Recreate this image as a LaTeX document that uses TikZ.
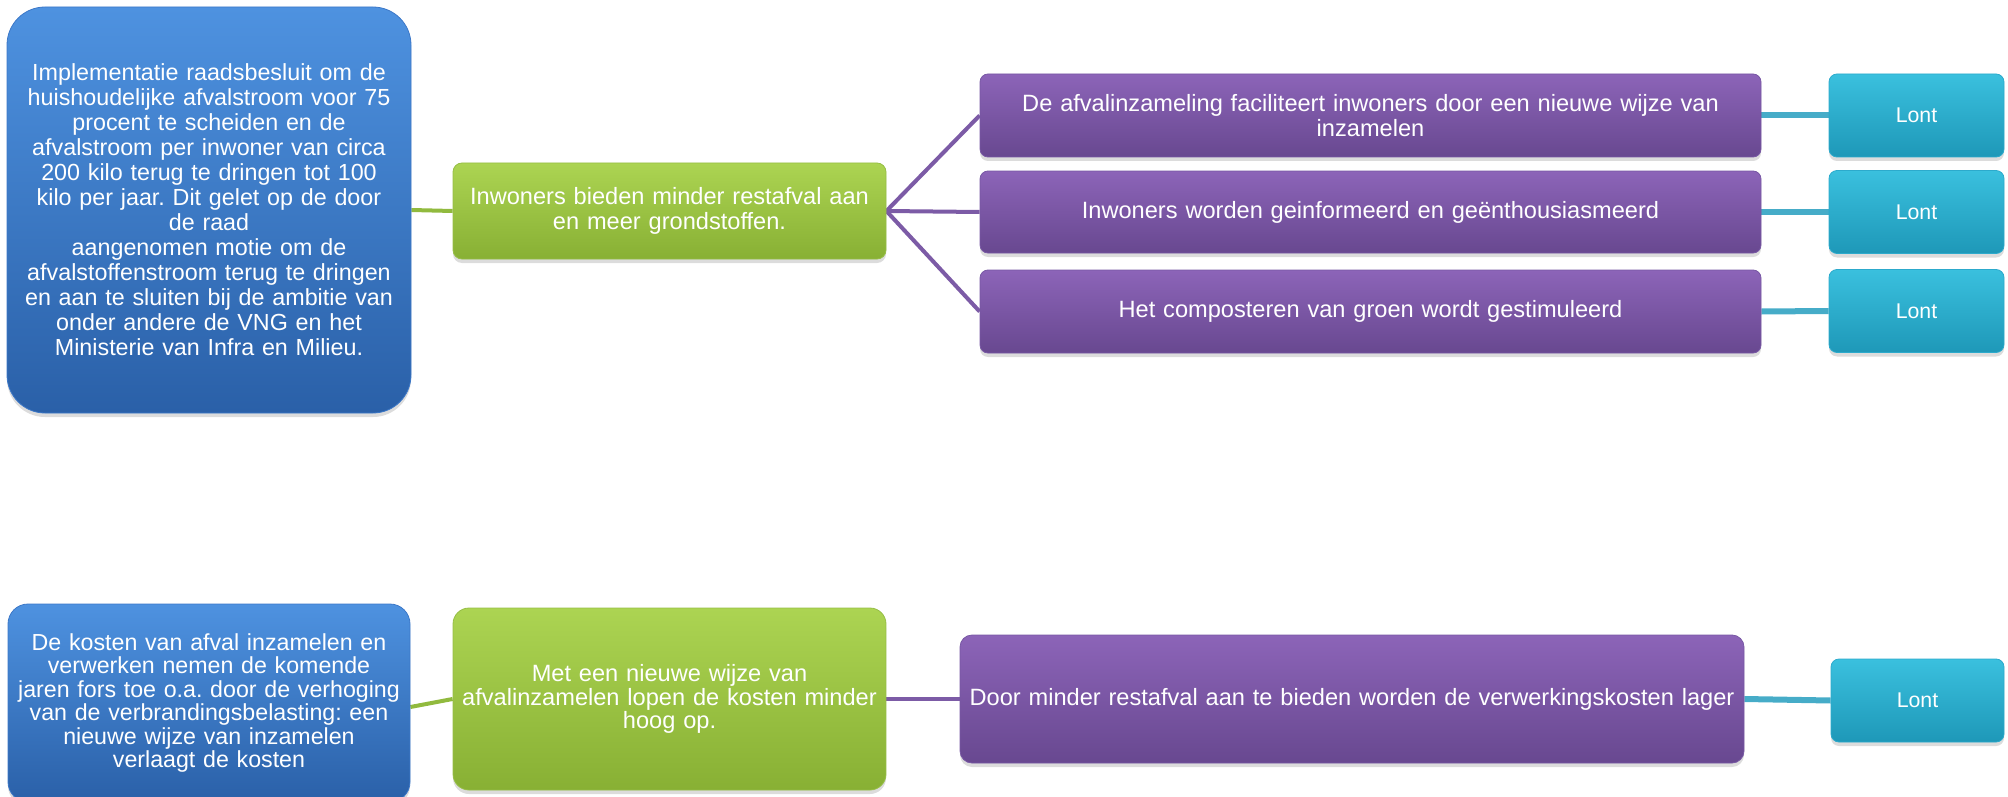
\documentclass[tikz,border=0pt]{standalone}
\usepackage{fontspec}
\setmainfont{Liberation Sans}
\usetikzlibrary{shadows}
\definecolor{bluetop}{RGB}{78,146,224}
\definecolor{bluebot}{RGB}{42,96,168}
\definecolor{blueedge}{RGB}{60,120,200}
\definecolor{greentop}{RGB}{172,212,82}
\definecolor{greenbot}{RGB}{136,176,52}
\definecolor{greenedge}{RGB}{150,190,70}
\definecolor{purptop}{RGB}{140,100,184}
\definecolor{purpbot}{RGB}{104,72,144}
\definecolor{purpedge}{RGB}{120,88,164}
\definecolor{tealtop}{RGB}{58,192,222}
\definecolor{tealbot}{RGB}{30,152,184}
\definecolor{tealedge}{RGB}{44,170,204}
\definecolor{glinec}{RGB}{145,186,62}
\definecolor{plinec}{RGB}{124,91,166}
\definecolor{tlinec}{RGB}{70,172,200}
\pgfdeclarelayer{bg}
\pgfsetlayers{bg,main}
\tikzset{
  box/.style={inner sep=0pt, align=center, text=white, line width=0.8pt,
    drop shadow={shadow xshift=0pt, shadow yshift=-4pt, opacity=0.28}},
  bluebox/.style={box, top color=bluetop, bottom color=bluebot, draw=blueedge},
  greenbox/.style={box, top color=greentop, bottom color=greenbot, draw=greenedge},
  purpbox/.style={box, top color=purptop, bottom color=purpbot, draw=purpedge,
    minimum width=781pt, text width=775pt, rounded corners=8pt,
    font=\fontsize{23.6}{25}\selectfont},
  lontbox/.style={box, top color=tealtop, bottom color=tealbot, draw=tealedge,
    minimum width=175pt, minimum height=83pt, rounded corners=8pt,
    font=\fontsize{21.3}{24}\selectfont},
  gline/.style={draw=glinec, line width=4pt},
  pline/.style={draw=plinec, line width=4pt},
  tline/.style={draw=tlinec, line width=6pt},
}
\begin{document}
\frenchspacing
\begin{tikzpicture}[x=1pt,y=-1pt]
\useasboundingbox (0,0) rectangle (2008,797);
\clip (0,0) rectangle (2008,797);
% top row
\node[bluebox, rounded corners=38pt, minimum width=404pt, minimum height=406pt,
  text width=400pt, font=\fontsize{23.3}{25}\selectfont] (b1) at (209,210)
  {Implementatie raadsbesluit om de\\huishoudelijke afvalstroom voor 75\\procent te scheiden en de\\afvalstroom per inwoner van circa\\200 kilo terug te dringen tot 100\\kilo per jaar. Dit gelet op de door\\de raad\\aangenomen motie om de\\afvalstoffenstroom terug te dringen\\en aan te sluiten bij de ambitie van\\onder andere de VNG en het\\Ministerie van Infra en Milieu.};
\node[greenbox, rounded corners=9pt, minimum width=433pt, minimum height=96pt,
  text width=428pt, font=\fontsize{23.6}{25}\selectfont] (g1) at (669.5,211)
  {Inwoners bieden minder restafval aan\\en meer grondstoffen.};
\node[purpbox, minimum height=83pt] (p1) at (1370.5,115.5)
  {De afvalinzameling faciliteert inwoners door een nieuwe wijze van\\inzamelen};
\node[purpbox, minimum height=82pt] (p2) at (1370.5,212)
  {Inwoners worden geinformeerd en geënthousiasmeerd};
\node[purpbox, minimum height=83pt] (p3) at (1370.5,311.5)
  {Het composteren van groen wordt gestimuleerd};
\node[lontbox] (l1) at (1916.5,115.5) {Lont};
\node[lontbox] (l2) at (1916.5,212) {Lont};
\node[lontbox] (l3) at (1916.5,311) {Lont};
% bottom row
\node[bluebox, rounded corners=20pt, minimum width=402pt, minimum height=198pt,
  text width=400pt, font=\fontsize{23.2}{23.4}\selectfont] (b2) at (209,703)
  {De kosten van afval inzamelen en\\verwerken nemen de komende\\jaren fors toe o.a. door de verhoging\\van de verbrandingsbelasting: een\\nieuwe wijze van inzamelen\\verlaagt de kosten};
\node[greenbox, rounded corners=16pt, minimum width=433pt, minimum height=182pt,
  text width=430pt, font=\fontsize{23.6}{23.4}\selectfont] (g2) at (669.5,699)
  {Met een nieuwe wijze van\\afvalinzamelen lopen de kosten minder\\hoog op.};
\node[purpbox, minimum width=784pt, minimum height=128pt, text width=782pt,
  rounded corners=12pt] (p4) at (1352,699)
  {Door minder restafval aan te bieden worden de verwerkingskosten lager};
\node[lontbox, minimum width=173pt] (l4) at (1917.5,700.5) {Lont};
% connectors
\begin{pgfonlayer}{bg}
\draw[gline] (b1.east) -- (g1.west);
\draw[pline] (g1.east) -- (p1.west);
\draw[pline] (g1.east) -- (p2.west);
\draw[pline] (g1.east) -- (p3.west);
\draw[tline] (p1.east) -- (l1.west);
\draw[tline] (p2.east) -- (l2.west);
\draw[tline] (p3.east) -- (l3.west);
\draw[gline] ([yshift=-4pt]b2.east) -- (g2.west);
\draw[pline] (g2.east) -- (p4.west);
\draw[tline] (p4.east) -- (l4.west);
\end{pgfonlayer}
\end{tikzpicture}
\end{document}
